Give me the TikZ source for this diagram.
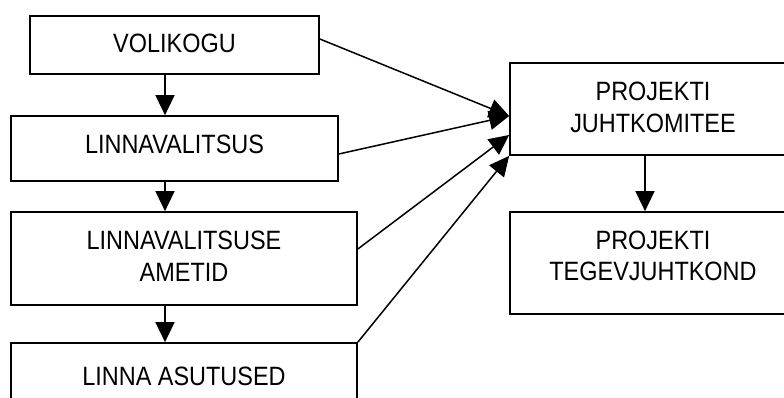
\documentclass[tikz,border=0pt]{standalone}
\usepackage{fontspec}
\setmainfont[FakeStretch=0.885]{Liberation Sans}
\usetikzlibrary{arrows.meta}
\begin{document}
\begin{tikzpicture}[x=1pt,y=-1pt,
  box/.style={draw,line width=1.7pt,inner sep=0pt},
  lbl/.style={inner sep=0pt,align=center,font=\fontsize{26.5}{31.5}\selectfont},
  arr/.style={line width=1.5pt,-{Triangle[length=20pt,width=19pt]}}]
\useasboundingbox (0,0) rectangle (784,398);
\clip (0,0) rectangle (784,398);
% boxes
\node[box,minimum width=289pt,minimum height=58pt] (vol) at (174.5,45) {};
\node[box,minimum width=327pt,minimum height=65pt] (lv) at (174.5,148.5) {};
\node[box,minimum width=346pt,minimum height=93pt] (am) at (184,258.5) {};
\node[box,minimum width=346pt,minimum height=93pt] (as) at (184,389.5) {};
\node[box,minimum width=286pt,minimum height=92pt] (jk) at (653,109) {};
\node[box,minimum width=286pt,minimum height=102pt] (tj) at (653,263) {};
% labels
\node[lbl] (volt) at (174.5,43.5) {VOLIKOGU};
\node[lbl] (lvt) at (174.5,144) {LINNAVALITSUS};
\node[lbl] (amt) at (184,256) {LINNAVALITSUSE\\AMETID};
\node[lbl] (ast) at (184,376) {LINNA ASUTUSED};
\node[lbl] (jkt) at (653,107.5) {PROJEKTI\\JUHTKOMITEE};
\node[lbl] (tjt) at (653,256) {PROJEKTI\\TEGEVJUHTKOND};
% vertical arrows
\coordinate (cx) at (165,0);
\coordinate (cr) at (645,0);
\draw[arr] (vol.south -| cx) -- (lv.north -| cx);
\draw[arr] (lv.south -| cx) -- (am.north -| cx);
\draw[arr] (am.south -| cx) -- (as.north -| cx);
\draw[arr] (jk.south -| cr) -- (tj.north -| cr);
% diagonal arrows
\draw[arr] ([yshift=6pt]vol.east) -- ([yshift=-7pt]jk.west);
\draw[arr] ([yshift=-5.5pt]lv.east) -- ([yshift=-7pt]jk.west);
\draw[arr] ([yshift=9.5pt]am.east) -- ([yshift=-26pt]jk.west);
\draw[arr] (as.north east) -- (jk.south west);
\end{tikzpicture}
\end{document}
